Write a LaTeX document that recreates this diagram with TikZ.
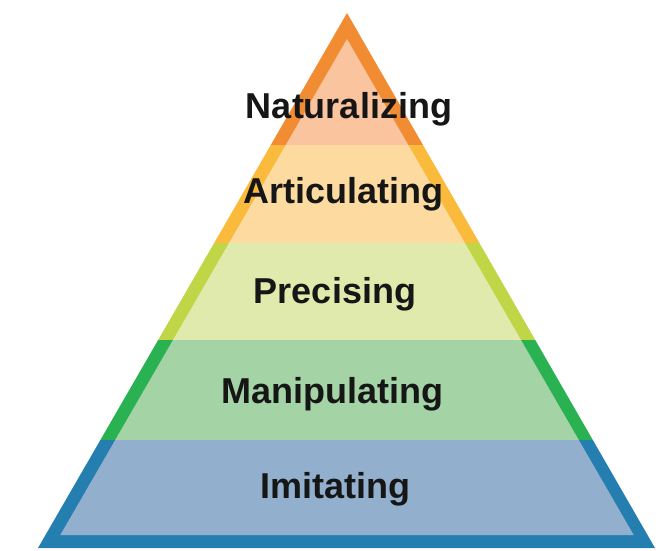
\documentclass[tikz,border=0pt]{standalone}
\usepackage{fontspec}
\setmainfont{Liberation Sans}
\definecolor{orD}{RGB}{242,140,50}
\definecolor{orL}{RGB}{249,196,158}
\definecolor{yeD}{RGB}{250,186,60}
\definecolor{yeL}{RGB}{253,219,160}
\definecolor{lgD}{RGB}{192,214,70}
\definecolor{lgL}{RGB}{224,234,172}
\definecolor{gD}{RGB}{42,178,82}
\definecolor{gL}{RGB}{164,211,166}
\definecolor{bD}{RGB}{36,126,176}
\definecolor{bL}{RGB}{146,176,205}
\definecolor{txt}{RGB}{22,22,22}
\begin{document}
\begin{tikzpicture}[x=1pt,y=1pt,
  lvl/.style={anchor=base,inner sep=0pt,text=txt,font=\fontsize{36}{40}\selectfont\bfseries}]
\useasboundingbox (0,0) rectangle (659,550);
% outer (border colours)
\begin{scope}
  \clip (347,537) -- (38,2) -- (655,2) -- cycle;
  \fill[bD]  (0,0)   rectangle (659,110);
  \fill[gD]  (0,110) rectangle (659,210);
  \fill[lgD] (0,210) rectangle (659,307);
  \fill[yeD] (0,307) rectangle (659,405);
  \fill[orD] (0,405) rectangle (659,550);
\end{scope}
% inner (fill colours)
\begin{scope}
  \clip (347,511) -- (60.3,15) -- (633.7,15) -- cycle;
  \fill[bL]  (0,0)   rectangle (659,110);
  \fill[gL]  (0,110) rectangle (659,210);
  \fill[lgL] (0,210) rectangle (659,307);
  \fill[yeL] (0,307) rectangle (659,405);
  \fill[orL] (0,405) rectangle (659,550);
\end{scope}
\node[lvl] (nat)  at (349,431)   {Naturalizing};
\node[lvl] (art)  at (343.5,346) {Articulating};
\node[lvl] (prec) at (335,247)   {Precising};
\node[lvl] (man)  at (332.5,147) {Manipulating};
\node[lvl] (imi)  at (335.5,52)  {Imitating};
\end{tikzpicture}
\end{document}
